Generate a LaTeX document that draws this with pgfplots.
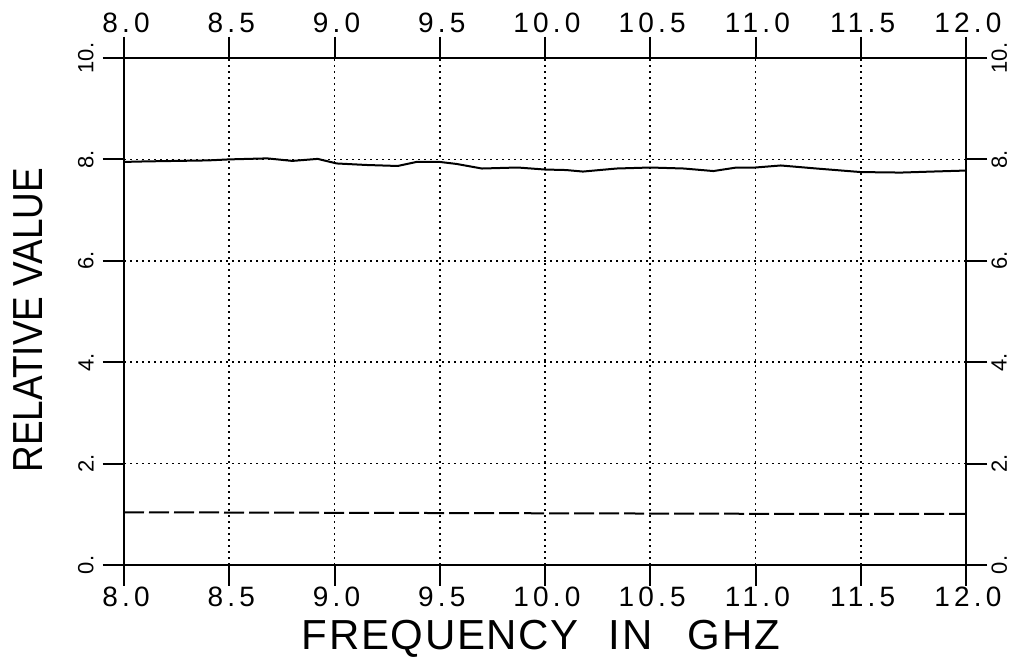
\documentclass[border=0pt]{standalone}
\usepackage{fontspec}
\setmainfont{Liberation Sans}
\newfontfamily\tickfont[LetterSpace=15]{Liberation Sans}
\newfontfamily\xlabfont[LetterSpace=4]{Liberation Sans}
\newfontfamily\ylabfont[FakeStretch=0.88]{Liberation Sans}
\usepackage{pgfplots}
\pgfplotsset{compat=1.18}

\pgfplotsset{
  plotframe/.style={
    width=421pt, height=253.5pt, scale only axis,
    xmin=8, xmax=12, ymin=0, ymax=10,
    xtick={8,8.5,9,9.5,10,10.5,11,11.5,12},
    ytick={0,2,4,6,8,10},
    xticklabels={8.0,8.5,9.0,9.5,10.0,10.5,11.0,11.5,12.0},
    yticklabels={0.,2.,4.,6.,8.,10.},
    xtick pos=both, ytick pos=both,
    tick align=outside,
    major tick length=10.5pt,
    tick style={line width=1pt, black},
    axis line style={line width=0.9pt},
    x tick label style={font=\tickfont\fontsize{14}{14}\selectfont, inner sep=0pt, xshift=1pt},
    y tick label style={font=\fontsize{11}{12}\selectfont, rotate=90, inner sep=0pt},
  }
}

\begin{document}
\begin{tikzpicture}
\useasboundingbox (-62pt,-48.5pt) rectangle (448.5pt,282.5pt);
\begin{axis}[
  plotframe,
  xticklabel pos=lower, yticklabel pos=left,
  xticklabel style={anchor=north, yshift=-0.5pt},
  % rotated labels: yshift moves them sideways
  yticklabel style={anchor=south, yshift=4.5pt},
  grid=major,
  major grid style={black, line width=0.8pt, dash pattern=on 0.8pt off 2.2pt},
  xlabel={FREQUENCY\hspace{15pt}IN\hspace{17.5pt}GHZ},
  ylabel={RELATIVE VALUE},
  every axis x label/.style={at={(axis description cs:0.495,0)}, yshift=-27.5pt,
    anchor=north, inner sep=0pt, font=\xlabfont\fontsize{21}{21}\selectfont},
  every axis y label/.style={at={(axis description cs:0,0.483)}, xshift=-48pt,
    rotate=90, anchor=center, inner sep=0pt, font=\ylabfont\fontsize{21}{21}\selectfont},
]
\addplot[black, line width=1pt] coordinates {
(8.00,7.95) (8.10,7.96) (8.25,7.97) (8.40,7.98) (8.50,8.00) (8.68,8.02)
(8.80,7.97) (8.92,8.01) (9.01,7.92) (9.15,7.89) (9.30,7.87) (9.39,7.95)
(9.50,7.95) (9.58,7.91) (9.70,7.82) (9.87,7.84) (10.00,7.80) (10.10,7.79)
(10.18,7.76) (10.34,7.82) (10.50,7.84) (10.66,7.82) (10.80,7.77) (10.91,7.84)
(11.00,7.84) (11.12,7.88) (11.29,7.82) (11.50,7.75) (11.69,7.74) (11.84,7.76)
(12.00,7.78)
};
\addplot[black, line width=1pt, dash pattern=on 10pt off 2.5pt] coordinates {
(8.0,1.04) (9.0,1.03) (10.0,1.02) (11.0,1.01) (12.0,1.01)
};
\end{axis}
\begin{axis}[
  plotframe,
  xticklabel pos=upper, yticklabel pos=right,
  xticklabel style={anchor=south, yshift=2pt},
  yticklabel style={anchor=north, yshift=-2pt},
]
\end{axis}
\end{tikzpicture}
\end{document}
